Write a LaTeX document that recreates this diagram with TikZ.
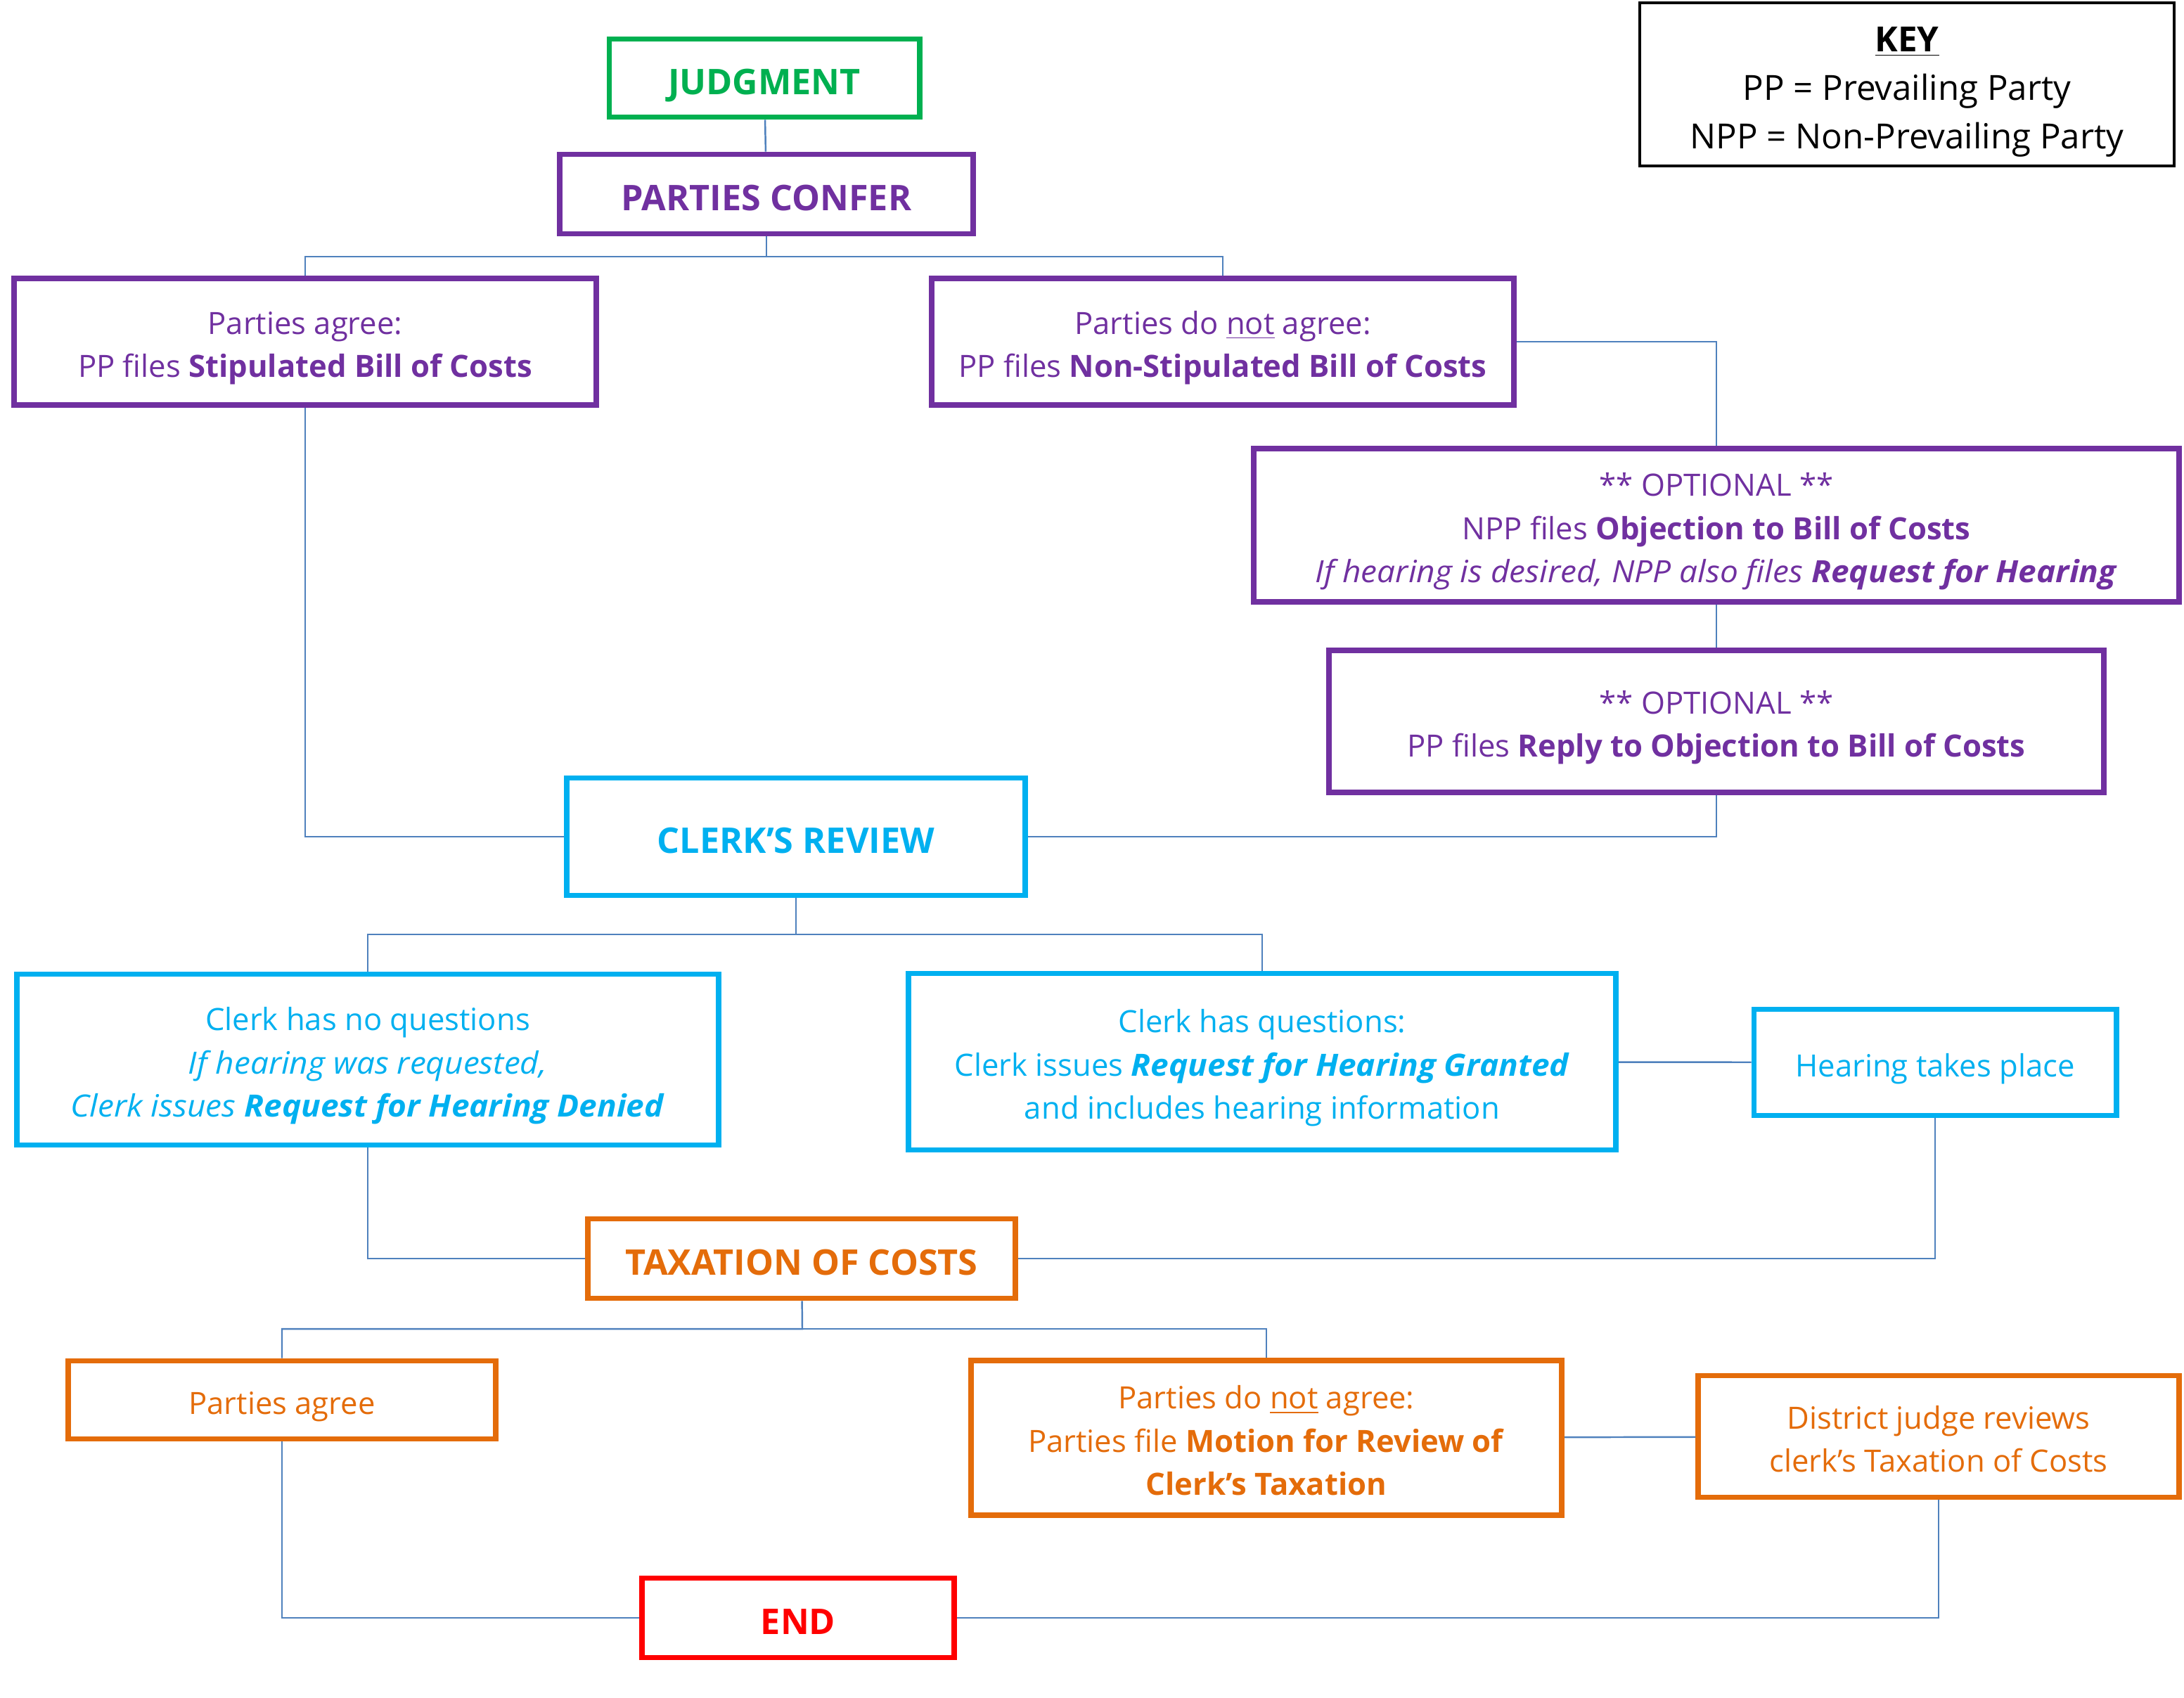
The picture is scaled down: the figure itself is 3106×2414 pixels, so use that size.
\documentclass[tikz,border=0pt]{standalone}
\usepackage{fontspec}
\setmainfont{Open Sans}[ItalicFeatures={FakeStretch=1.055},BoldItalicFeatures={FakeStretch=1.055}]
\usetikzlibrary{positioning}

\definecolor{cpurple}{HTML}{7030A0}
\definecolor{cgreen}{HTML}{00B050}
\definecolor{cblue}{HTML}{00B0F0}
\definecolor{corange}{HTML}{E46C0A}
\definecolor{cred}{HTML}{FF0000}
\definecolor{clink}{HTML}{4F81BD}

% struts that push the text a little down in its box
\newcommand{\topstrut}{\rule{0pt}{1.22em}}
\newcommand{\botstrut}{\rule[-0.3em]{0pt}{0pt}}

\tikzset{
  stepbox/.style={draw, line width=2.2pt, align=center, inner sep=0pt,
    font=\fontsize{12.4}{17.5}\selectfont},
  headbox/.style={stepbox, font=\fontsize{14.3}{17}\selectfont\bfseries},
  purplebox/.style={draw=cpurple, text=cpurple},
  greenbox/.style={draw=cgreen, text=cgreen},
  bluebox/.style={draw=cblue, text=cblue},
  orangebox/.style={draw=corange, text=corange},
  redbox/.style={draw=cred, text=cred},
  link/.style={draw=clink, line width=0.7pt},
}

\begin{document}
\begin{tikzpicture}[x=0.01cm,y=-0.01cm]
\useasboundingbox (0,0) rectangle (3106,2414);

%Shape: Rectangle
\node[headbox, greenbox, minimum width=4.41cm, minimum height=1.11cm] (judgment) at (1087,111) {\topstrut JUDGMENT\botstrut};
%Shape: Rectangle
\node[headbox, purplebox, minimum width=5.87cm, minimum height=1.13cm] (confer) at (1090,276) {\topstrut PARTIES CONFER\botstrut};
%Shape: Rectangle
\node[stepbox, purplebox, minimum width=8.28cm, minimum height=1.80cm] (agree) at (434,486) {\topstrut Parties agree:\\PP files \textbf{Stipulated Bill of Costs}\botstrut};
%Shape: Rectangle
\node[stepbox, purplebox, minimum width=8.28cm, minimum height=1.80cm] (notagree) at (1739,486) {\topstrut Parties do \underline{not} agree:\\PP files \textbf{Non-Stipulated Bill of Costs}\botstrut};
%Shape: Rectangle
\node[stepbox, purplebox, minimum width=13.15cm, minimum height=2.18cm] (objection) at (2441,747) {\topstrut ** OPTIONAL **\\NPP files \textbf{Objection to Bill of Costs}\\\textit{If hearing is desired, NPP also files \textbf{Request for Hearing}}\botstrut};
%Shape: Rectangle
\node[stepbox, purplebox, minimum width=11.01cm, minimum height=2.02cm] (reply) at (2441,1026) {\topstrut ** OPTIONAL **\\PP files \textbf{Reply to Objection to Bill of Costs}\botstrut};

%Shape: Rectangle
\node[headbox, bluebox, minimum width=6.52cm, minimum height=1.67cm] (review) at (1132,1190) {\topstrut CLERK’S REVIEW\botstrut};
%Shape: Rectangle
\node[stepbox, bluebox, minimum width=9.98cm, minimum height=2.43cm] (noquest) at (523,1507) {\topstrut Clerk has no questions\\\textit{If hearing was requested,}\\\textit{Clerk issues \textbf{Request for Hearing Denied}}\botstrut};
%Shape: Rectangle
\node[stepbox, bluebox, minimum width=10.06cm, minimum height=2.51cm] (quest) at (1795,1510) {\topstrut Clerk has questions:\\Clerk issues \textbf{\textit{Request for Hearing Granted}}\\and includes hearing information\botstrut};
%Shape: Rectangle
\node[stepbox, bluebox, minimum width=5.15cm, minimum height=1.51cm] (hearing) at (2752,1511) {\topstrut Hearing takes place\botstrut};

%Shape: Rectangle
\node[headbox, orangebox, minimum width=6.08cm, minimum height=1.13cm] (taxation) at (1140,1790) {\topstrut TAXATION OF COSTS\botstrut};
%Shape: Rectangle
\node[stepbox, orangebox, minimum width=6.08cm, minimum height=1.11cm] (agreetax) at (401,1991) {\topstrut Parties agree\botstrut};
%Shape: Rectangle
\node[stepbox, orangebox, minimum width=8.40cm, minimum height=2.20cm] (motion) at (1801,2045) {\topstrut Parties do \underline{not} agree:\\Parties file \textbf{Motion for Review of}\\\textbf{Clerk’s Taxation}\botstrut};
%Shape: Rectangle
\node[stepbox, orangebox, minimum width=6.83cm, minimum height=1.73cm] (district) at (2757,2043) {\topstrut District judge reviews\\clerk’s Taxation of Costs\botstrut};
%Shape: Rectangle
\node[headbox, redbox, minimum width=4.44cm, minimum height=1.13cm] (end) at (1135,2301) {\topstrut END\botstrut};

%Shape: Rectangle
\node[stepbox, draw, line width=1.2pt, minimum width=7.60cm, minimum height=2.32cm,
  font=\fontsize{14}{19.6}\selectfont] (key) at (2712,120) {\topstrut\underline{\textbf{KEY}}\\PP = Prevailing Party\\NPP = Non-Prevailing Party\botstrut};

%Straight Lines
\coordinate (split1) at (1090,365);
\coordinate (split2) at (1132,1329);
\coordinate (split3) at (1141,1890);
\draw[link] (judgment) -- (confer);
\draw[link] (confer) -- (split1) -| (agree);
\draw[link] (split1) -| (notagree);
\draw[link] (notagree.east) -| (objection.north);
\draw[link] (objection) -- (reply);
\draw[link] (reply.south) |- (review.east);
\draw[link] (agree.south) |- (review.west);
%Straight Lines
\draw[link] (review) -- (split2) -| (noquest);
\draw[link] (split2) -| (quest);
\draw[link] (quest) -- (hearing);
\draw[link] (hearing.south) |- (taxation.east);
\draw[link] (noquest.south) |- (taxation.west);
%Straight Lines
\draw[link] (taxation) -- (split3) -| (agreetax);
\draw[link] (split3) -| (motion);
\draw[link] (motion) -- (district);
\draw[link] (district.south) |- (end.east);
\draw[link] (agreetax.south) |- (end.west);

\end{tikzpicture}
\end{document}
